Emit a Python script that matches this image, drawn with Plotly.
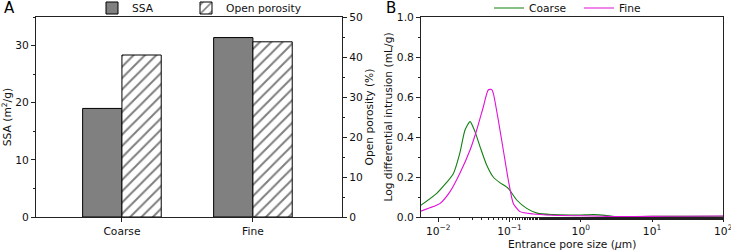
import plotly.graph_objects as go

# ---------------- data ----------------
categories = ["Coarse", "Fine"]
ssa_values = [19.0, 31.4]            # m2/g
porosity_values = [40.5, 43.8]       # %

coarse_size = [0.0055, 0.0095, 0.0163, 0.020, 0.0237, 0.0279, 0.0327, 0.0385, 0.0477, 0.059,
               0.073, 0.096, 0.126, 0.174, 0.25, 0.4, 0.7, 1.0, 1.5, 2.2, 3.0, 5.0, 10.0, 30.0, 100.0]
coarse_val = [0.055, 0.118, 0.218, 0.318, 0.435, 0.477, 0.427, 0.352, 0.26, 0.20,
              0.172, 0.143, 0.085, 0.043, 0.018, 0.012, 0.010, 0.010, 0.012, 0.008, 0.002, 0.002, 0.003, 0.003, 0.004]

fine_size = [0.0055, 0.0085, 0.0106, 0.0146, 0.020, 0.0279, 0.0346, 0.0428, 0.0502, 0.0561,
             0.0592, 0.0695, 0.0817, 0.096, 0.113, 0.14, 0.215, 0.4, 1.0, 2.0, 3.0, 10.0, 30.0, 100.0]
fine_val = [0.027, 0.052, 0.068, 0.127, 0.218, 0.335, 0.435, 0.55, 0.635, 0.638,
            0.618, 0.485, 0.335, 0.185, 0.068, 0.027, 0.015, 0.009, 0.006, 0.004, 0.002, 0.003, 0.004, 0.005]

x_tickvals = [0.01, 0.1, 1, 10, 100]
x_ticktext = ["10<sup>−2</sup>", "10<sup>−1</sup>", "10<sup>0</sup>", "10<sup>1</sup>", "10<sup>2</sup>"]

# ---------------- figure ----------------
FONT = "DejaVu Sans"
FS = 10.7
W, H = 731, 251
fig = go.Figure()

fig.add_trace(go.Bar(
    x=[0, 1], y=ssa_values, name="SSA", width=0.3, offset=-0.3, showlegend=True,
    marker=dict(color="#808080", line=dict(color="black", width=1)),
    xaxis="x", yaxis="y", legend="legend"))
fig.add_trace(go.Bar(
    x=[0, 1], y=porosity_values, name="Open porosity", width=0.3, offset=0, showlegend=True,
    marker=dict(color="white", line=dict(color="black", width=1),
                pattern=dict(shape="/", fgcolor="black", bgcolor="white", size=8, solidity=0.25)),
    xaxis="x", yaxis="y2", legend="legend3"))

fig.add_trace(go.Scatter(
    x=coarse_size, y=coarse_val, name="Coarse", mode="lines", showlegend=True,
    line=dict(color="#108010", width=1.1, shape="spline", smoothing=0.6),
    xaxis="x3", yaxis="y3", legend="legend2"))
fig.add_trace(go.Scatter(
    x=fine_size, y=fine_val, name="Fine", mode="lines", showlegend=True,
    line=dict(color="#e010d8", width=1.1, shape="spline", smoothing=0.6),
    xaxis="x3", yaxis="y3", legend="legend2"))

ydom = [(H - 217) / H, (H - 17) / H]
TF = dict(family=FONT, size=FS, color="#111")
axcommon = dict(showline=True, linecolor="#222", linewidth=1, ticks="outside", ticklen=4,
                tickcolor="#222", showgrid=False, zeroline=False, automargin=False,
                tickfont=TF, ticklabeloverflow="allow")
leg_common = dict(orientation="h", y=1 - 8 / H, xanchor="left", yanchor="middle",
                  font=TF, bgcolor="rgba(0,0,0,0)", itemwidth=30, visible=True)

fig.update_layout(
    width=W, height=H, margin=dict(l=0, r=0, t=0, b=0, autoexpand=False),
    paper_bgcolor="white", plot_bgcolor="white",
    font=TF, showlegend=True,
    barmode="overlay",
    xaxis=dict(domain=[36 / W, 342 / W], range=[-0.656, 1.68], tickvals=[0, 1],
               ticktext=categories, mirror=True, **axcommon),
    yaxis=dict(domain=ydom, range=[0, 35], tickvals=[0, 10, 20, 30],
               title=dict(text="SSA (m<sup>2</sup>/g)", font=TF, standoff=5),
               minor=dict(ticks="outside", ticklen=2, dtick=5, tickcolor="#222"),
               **axcommon),
    yaxis2=dict(domain=ydom, range=[0, 50], overlaying="y", side="right", anchor="x",
                tickvals=[0, 10, 20, 30, 40, 50],
                title=dict(text="Open porosity (%)", font=TF, standoff=1),
                minor=dict(ticks="outside", ticklen=2, dtick=5, tickcolor="#222"),
                **axcommon),
    xaxis3=dict(domain=[421 / W, 723.3 / W], type="log", range=[-2.243, 2.0005], anchor="y3",
                tickvals=x_tickvals, ticktext=x_ticktext, mirror=True,
                title=dict(text="Entrance pore size (<i>μ</i>m)", font=TF, standoff=2),
                minor=dict(ticks="outside", ticklen=2, tickcolor="#222", showgrid=False),
                **axcommon),
    yaxis3=dict(domain=ydom, range=[0, 1.0], anchor="x3", mirror=True,
                tickvals=[0, 0.2, 0.4, 0.6, 0.8, 1.0], ticktext=["0.0", "0.2", "0.4", "0.6", "0.8", "1.0"],
                title=dict(text="Log differential intrusion (mL/g)", font=TF, standoff=2),
                minor=dict(ticks="outside", ticklen=2, dtick=0.1, tickcolor="#222"),
                **axcommon),
    legend=dict(x=92 / W, **leg_common),
    legend3=dict(x=186 / W, **leg_common),
    legend2=dict(x=489 / W, entrywidth=45, **leg_common),
    annotations=[
        dict(text="A", x=2 / W, y=1 - 8 / H, xref="paper", yref="paper", xanchor="left",
             yanchor="middle", showarrow=False, font=dict(family=FONT, size=15, color="black")),
        dict(text="B", x=384 / W, y=1 - 8 / H, xref="paper", yref="paper", xanchor="left",
             yanchor="middle", showarrow=False, font=dict(family=FONT, size=15, color="black")),
    ],
)

fig.write_html("out.html", config={"displayModeBar": False},
               post_script="document.body.style.margin='0';document.body.style.overflow='hidden';")
